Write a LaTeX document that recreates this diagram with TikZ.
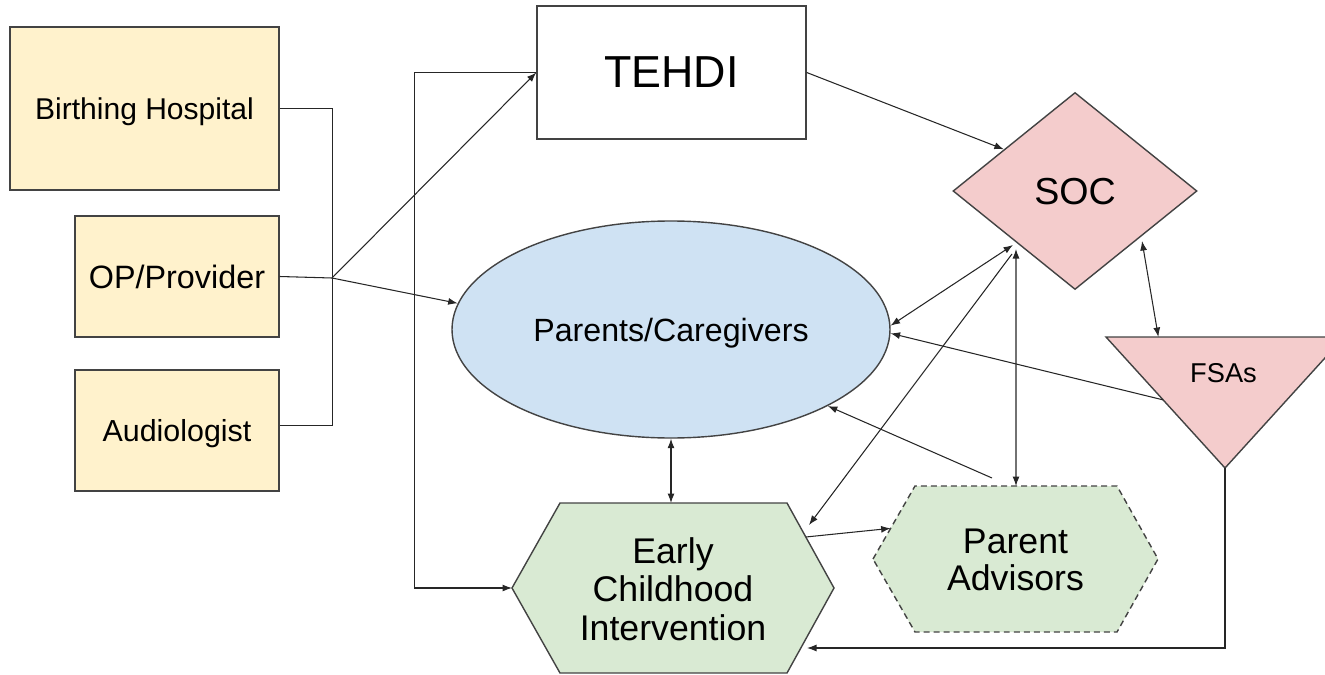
\documentclass[tikz,border=0pt]{standalone}
\usepackage{fontspec}
\setmainfont{Liberation Sans}
\usetikzlibrary{arrows.meta, shapes.geometric, calc}

\definecolor{feedyellow}{HTML}{FFF2CC}
\definecolor{familyblue}{HTML}{CFE2F3}
\definecolor{socpink}{HTML}{F4CCCC}
\definecolor{servicegreen}{HTML}{D9EAD3}
\definecolor{edgegray}{HTML}{434343}

\begin{document}
\begin{tikzpicture}[x=0.2mm, y=-0.2mm,
    shapeline/.style={draw=edgegray, line width=0.8pt},
    feeder/.style={shapeline, rectangle, fill=feedyellow, inner sep=0pt, text depth=0pt},
    wire/.style={draw=black!85, line width=0.6pt},
    arrow/.style={wire, -{Latex[length=1.9mm, width=1.4mm]}},
    both/.style={wire, {Latex[length=1.9mm, width=1.4mm]}-{Latex[length=1.9mm, width=1.4mm]}}]
    \useasboundingbox (0,0) rectangle (1325,675);

    % Referral sources
    \node[feeder, minimum width=53.8mm, minimum height=32.6mm, font=\fontsize{17.1}{20}\selectfont] (hospital) at (144.5,108.5) {Birthing Hospital};
    \node[feeder, minimum width=40.8mm, minimum height=24.2mm, font=\fontsize{18.4}{22}\selectfont] (provider) at (177,276.5) {OP/Provider};
    \node[feeder, minimum width=40.8mm, minimum height=24.2mm, font=\fontsize{17.3}{20}\selectfont] (audiologist) at (177,430.5) {Audiologist};

    % TEHDI, families and SOC
    \node[shapeline, rectangle, fill=white, minimum width=53.8mm, minimum height=26.6mm, inner sep=0pt, text depth=0pt, font=\fontsize{25.5}{30}\selectfont] (tehdi) at (671.5,72.5) {TEHDI};
    \node[shapeline, ellipse, fill=familyblue, minimum width=87.6mm, minimum height=43.4mm, inner sep=0pt, text depth=0pt, font=\fontsize{18.3}{22}\selectfont] (parents) at (671,329.5) {Parents/Caregivers};
    \node[shapeline, diamond, fill=socpink, minimum width=48.8mm, minimum height=39.4mm, inner sep=0pt, text depth=0pt, font=\fontsize{21.4}{25}\selectfont] (soc) at (1075,191) {SOC};

    % FSAs triangle
    \coordinate (fsaL) at (1106,337);
    \coordinate (fsaR) at (1344,337);
    \coordinate (fsaB) at (1225,468);
    \filldraw[shapeline, fill=socpink] (fsaL) -- (fsaR) -- (fsaB) -- cycle;
    \node[text depth=0pt, font=\fontsize{15.5}{18}\selectfont] (fsas) at (1223.5,373) {FSAs};

    % Early Childhood Intervention hexagon
    \coordinate (eciL) at (512,588);
    \coordinate (eciTL) at (560,503);
    \coordinate (eciTR) at (787,503);
    \coordinate (eciR) at (834,588);
    \coordinate (eciBR) at (787,673);
    \coordinate (eciBL) at (560,673);
    \filldraw[shapeline, fill=servicegreen] (eciL) -- (eciTL) -- (eciTR) -- (eciR) -- (eciBR) -- (eciBL) -- cycle;
    \node[align=center, font=\fontsize{20.3}{21.8}\selectfont] (eci) at (673,589) {Early\\Childhood\\Intervention};

    % Parent Advisors hexagon
    \coordinate (paL) at (873,559);
    \coordinate (paTL) at (915,486);
    \coordinate (paTR) at (1117,486);
    \coordinate (paR) at (1158,559);
    \coordinate (paBR) at (1117,632);
    \coordinate (paBL) at (915,632);
    \filldraw[shapeline, dash pattern=on 3.4pt off 2.3pt, fill=servicegreen] (paL) -- (paTL) -- (paTR) -- (paR) -- (paBR) -- (paBL) -- cycle;
    \node[align=center, font=\fontsize{20.3}{21}\selectfont] (advisors) at (1015.5,560) {Parent\\Advisors};

    % Free ends of connectors
    \coordinate (hub) at (332,278);
    \coordinate (socToParents) at (1013,245);
    \coordinate (socToEci) at (1012,254);
    \coordinate (socToAdvisors) at (1016,249);
    \coordinate (socToFsas) at (1142,241);
    \coordinate (eciFromSoc) at (809,525);
    \coordinate (eciFromFsas) at (807,648);
    \coordinate (advisorsOut) at (992,478);

    % Referral connectors
    \draw[wire] (hospital.east) -- ++(53,0) |- ([yshift=1mm]audiologist.east);
    \draw[wire] (provider.east) -- (hub);
    \draw[arrow] (hub) -- (tehdi.west);
    \draw[arrow] (hub) -- (parents.173.5);
    \draw[arrow] (tehdi.west) -- ++(-122,0) |- (eciL);
    \draw[arrow] (tehdi.east) -- ($(soc.west)!0.42!(soc.north)$);

    % SOC connectors
    \draw[both] (socToParents) -- (parents.1);
    \draw[arrow] (socToEci) -- (eciFromSoc);
    \draw[both] (socToAdvisors) -- ($(paTL)!0.5!(paTR)$);
    \draw[both] (socToFsas) -- ($(fsaL)!0.22!(fsaR)$);

    % Remaining connectors
    \draw[arrow] ($(fsaL)!0.48!(fsaB)$) -- (parents.-1.5);
    \draw[arrow] (advisorsOut) -- (parents.-26.6);
    \draw[both] (parents.south) -- (parents.south |- eciTL);
    \draw[arrow] ($(eciTR)!0.4!(eciR)$) -- ($(paTL)!0.58!(paL)$);
    \draw[arrow] (fsaB) |- (eciFromFsas);
\end{tikzpicture}
\end{document}
